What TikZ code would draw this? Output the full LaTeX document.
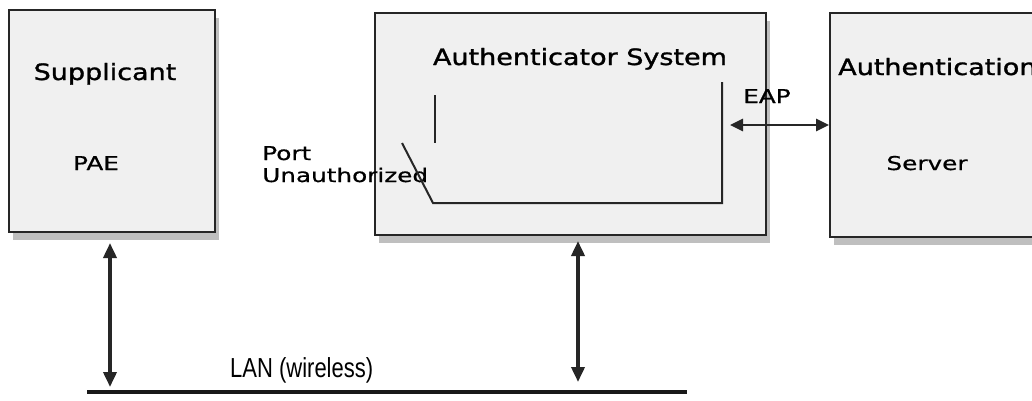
\documentclass[tikz,border=0pt]{standalone}
\usepackage{fontspec}
\setmainfont{DejaVu Sans}
\newfontfamily\headfont{DejaVu Sans}[FakeBold=1.2]
\newfontfamily\lblfont{DejaVu Sans}[FakeBold=0.6]
\newfontfamily\lanfont{Liberation Sans}
\usetikzlibrary{arrows.meta,shadows}
\begin{document}
\begin{tikzpicture}[x=1pt,y=-1pt,
  box/.style={draw=black!85, line width=2pt, fill=gray!12, inner sep=0pt,
    drop shadow={shadow xshift=4pt, shadow yshift=-8pt, fill=gray!50, opacity=1}},
  head/.style={font=\headfont\fontsize{22.5}{27}\selectfont, xscale=1.2, inner sep=0pt, text=black},
  lbl/.style={font=\lblfont\fontsize{19}{23}\selectfont, xscale=1.3, inner sep=0pt, text=black},
  lantext/.style={font=\lanfont\fontsize{22}{26}\selectfont, yscale=1.25, inner sep=0pt, text=black},
  dbl/.style={{Triangle[length=15pt,width=13pt]}-{Triangle[length=15pt,width=13pt]}, line width=3.6pt, draw=black!85},
  eaparrow/.style={{Triangle[length=13pt,width=12pt]}-{Triangle[length=13pt,width=12pt]}, line width=2.8pt, draw=black!85},
  portline/.style={draw=black!85, line width=2pt},
  lanline/.style={draw=black!90, line width=3.2pt},
  ]
\useasboundingbox (0,0) rectangle (1032,400);
\clip (0,0) rectangle (1032,400);
\fill[white] (0,0) rectangle (1032,400);

% boxes
\node[box, minimum width=206pt, minimum height=222pt] (supp) at (112,121) {};
\node[box, minimum width=391pt, minimum height=222pt] (auth) at (570.5,124) {};
\node[box, minimum width=222pt, minimum height=224pt] (srv) at (941,125) {};

% texts
\node[head, anchor=base] (tsupp) at (105,80) {Supplicant};
\node[lbl, anchor=base] (tpae) at (96,170) {PAE};
\node[head, anchor=base] (tauth) at (580,65) {Authenticator System};
\node[head, anchor=base west] (tsrv1) at (838,75) {Authentication};
\node[lbl, anchor=base] (tsrv2) at (927,170) {Server};
\node[lbl, anchor=base west] (tport) at (262,160) {Port};
\node[lbl, anchor=base west] (tunauth) at (262,182) {Unauthorized};
\node[lbl, anchor=base west] (teap) at (743,103) {EAP};
\node[lantext, anchor=base west] (tlan) at (230,377) {LAN (wireless)};

% port switch
\coordinate (q1) at (435,95);
\coordinate (q2) at (435,143);
\coordinate (p1) at (402,143);
\coordinate (p2) at (433,203);
\coordinate (p3) at (722,203);
\coordinate (p4) at (722,82);
\draw[portline] (q1) -- (q2);
\draw[portline] (p1) -- (p2) -- (p3) -- (p4);

% LAN
\coordinate (lanL) at (87,392);
\coordinate (lanR) at (687,392);
\draw[lanline] (lanL) -- (lanR);

% connectors
\coordinate (sa) at ([xshift=-2pt]supp.south);
\coordinate (aa) at ([xshift=7.5pt]auth.south);
\draw[dbl, shorten <=10pt, shorten >=5pt] (sa) -- (sa |- lanL);
\draw[dbl, shorten <=5pt, shorten >=10pt] (aa) -- (aa |- lanL);
\coordinate (ea) at ([xshift=8pt]p3);
\draw[eaparrow] (ea |- srv.west) -- (srv.west);
\end{tikzpicture}
\end{document}
